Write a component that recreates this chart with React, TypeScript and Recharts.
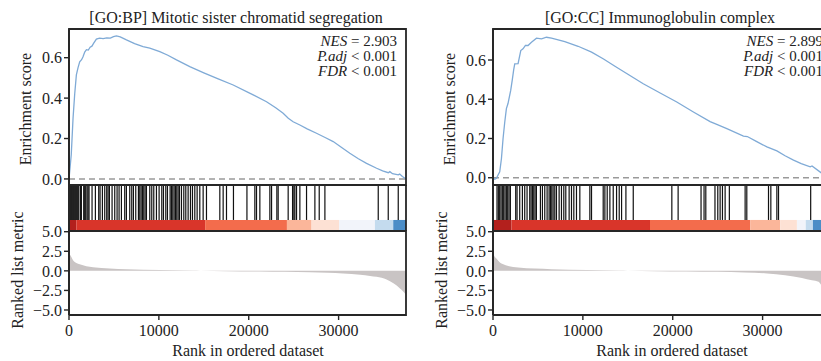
import React from 'react';
import {
  LineChart,
  Line,
  XAxis,
  YAxis,
  ReferenceLine,
  ComposedChart,
  Area,
} from 'recharts';

// ---------- shared axis values ----------
const RANK_MAX = 37500;
const rankTicks = [0, 10000, 20000, 30000];
const esTicks = [0, 0.2, 0.4, 0.6];
const metricTicks = [-5, -2.5, 0, 2.5, 5];
const metricDomain: [number, number] = [-5.64, 5.09];

// ---------- panel titles & stats ----------
const bpTitle = '[GO:BP] Mitotic sister chromatid segregation';
const ccTitle = '[GO:CC] Immunoglobulin complex';
const bpNES = '2.903';
const ccNES = '2.899';

// ---------- running enrichment score [rank, ES] ----------
const bpES = [
  [0, 0], [250, 0.12], [450, 0.3], [635, 0.42], [820, 0.515], [1000, 0.55], [1190, 0.58],
  [1400, 0.59], [1560, 0.605], [1750, 0.628], [1940, 0.64], [2150, 0.638], [2350, 0.652],
  [2550, 0.657], [2750, 0.672], [3050, 0.692], [3400, 0.697], [3800, 0.694], [4200, 0.698],
  [4600, 0.697], [4950, 0.704], [5280, 0.708], [5700, 0.703], [6390, 0.688], [7300, 0.67],
  [8240, 0.655], [8990, 0.647], [10100, 0.63], [11000, 0.612], [11960, 0.589], [13440, 0.556],
  [15000, 0.525], [16600, 0.495], [18270, 0.465], [20100, 0.425], [21980, 0.382], [23000, 0.352],
  [23830, 0.325], [24400, 0.3], [24940, 0.283], [25690, 0.267], [26500, 0.248], [27540, 0.226],
  [28500, 0.205], [29400, 0.185], [30300, 0.157], [31250, 0.127], [32200, 0.1], [33110, 0.077],
  [34230, 0.053], [34900, 0.04], [35530, 0.031], [35700, 0.036], [36000, 0.026], [36640, 0.02],
  [36800, 0.024], [37100, 0.012], [37500, 0],
];
const ccES = [
  [0, 0], [200, -0.008], [380, -0.003], [560, 0.014], [750, 0.03], [940, 0.098], [1120, 0.2],
  [1300, 0.28], [1490, 0.352], [1670, 0.378], [1970, 0.445], [2150, 0.5], [2300, 0.55], [2420, 0.58],
  [2790, 0.582], [3090, 0.648], [3340, 0.657], [3610, 0.674], [3900, 0.674], [4280, 0.69],
  [4840, 0.711], [5400, 0.708], [5950, 0.716], [6510, 0.711], [7250, 0.703], [7990, 0.694],
  [9470, 0.67], [10970, 0.64], [12300, 0.605], [13570, 0.568], [15100, 0.525], [16720, 0.479],
  [18600, 0.432], [20450, 0.386], [22300, 0.335], [24160, 0.286], [25100, 0.268], [26020, 0.25],
  [27870, 0.212], [28300, 0.21], [29300, 0.185], [30480, 0.157], [31590, 0.137], [32500, 0.112],
  [33440, 0.09], [34300, 0.072], [35300, 0.056], [35500, 0.06], [36530, 0.025], [37500, 0],
];

// ---------- gene-set hit ranks (barcode) ----------
const bpHits = [
  78, 189, 300, 412, 523, 635, 746, 857, 969, 1080, 1266, 1377, 1637, 1748, 1860, 2008, 2120, 2230,
  2565, 2936, 3307, 3456, 3716, 3976, 4199, 4348, 4496, 4793, 5090, 5350, 5572, 5832, 6202, 6388,
  6760, 6982, 7168, 7428, 7725, 7874, 8022, 8171, 8319, 8468, 8617, 8988, 9210, 9433, 9730, 10027,
  10324, 10510, 10770, 10955, 11252, 11400, 11549, 11697, 11846, 11994, 12143, 12291, 12514, 12774,
  12996, 13256, 13516, 13739, 13998, 14258, 14555, 14927, 15298, 16783, 17154, 17525, 18300, 19800,
  20680, 20866, 21237, 22350, 22539, 23130, 23275, 24388, 24877, 25023, 25134, 25320, 25690, 26432,
  27361, 27844, 28475, 34411, 35524, 36637,
];
const ccHits = [
  446, 595, 743, 892, 1040, 1189, 1338, 1486, 1635, 1784, 1932, 2527, 2676, 2973, 3270, 3530, 3790,
  4088, 4236, 4385, 4534, 4682, 4831, 5277, 5500, 5760, 6020, 6243, 6392, 6540, 6689, 6875, 7060,
  7358, 7618, 7878, 8101, 8472, 8733, 8993, 9290, 9662, 10776, 10962, 12263, 12449, 12709, 13006,
  13378, 13749, 14046, 14307, 14790, 15607, 19900, 20600, 23150, 23485, 23680, 24700, 25013, 25273,
  25532, 25830, 26300, 28056, 28242, 30657, 30917, 31586, 31772, 35350,
];

// ---------- colour strip: segment breaks (ranks) and colours ----------
const stripColors = ['#b3201d', '#d9352a', '#f36c4c', '#fbb69a', '#fde1d4', '#f2f4fa', '#c4dbee', '#4b8dc7'];
const bpStripBreaks = [0, 816, 15150, 24250, 26990, 30050, 34040, 36080, 37500];
const ccStripBreaks = [0, 2050, 17470, 28620, 31960, 33820, 34800, 35600, 37500];
const STRIP_TOP = 0.24;

// ---------- ranked list metric [rank, metric] ----------
const bpMetric = [
  [0, 2.4], [100, 2.1], [264, 1.78], [450, 1.36], [820, 1.0], [1190, 0.85], [1930, 0.6],
  [2680, 0.47], [4530, 0.3], [6390, 0.21], [10100, 0.12], [13800, 0.03], [14600, 0],
  [17500, -0.04], [21200, -0.08], [24000, -0.12], [26800, -0.17], [28800, -0.25], [30500, -0.34],
  [32400, -0.5], [33500, -0.65], [34230, -0.76], [35340, -1.1], [36100, -1.6], [36830, -2.25],
  [37380, -2.9], [37500, -3.1],
];
const ccMetric = [
  [0, 2.3], [100, 2.0], [380, 1.57], [940, 0.93], [2800, 0.42], [6500, 0.21], [10500, 0.11],
  [14000, 0.03], [15000, 0], [18000, -0.04], [21500, -0.08], [25000, -0.13], [28000, -0.2],
  [30500, -0.33], [32500, -0.55], [34380, -0.9], [35490, -1.2], [36230, -1.4], [36530, -1.82],
  [37000, -2.3], [37500, -3.0],
];

// ---------- styling ----------
const FONT = '"Liberation Serif", "DejaVu Serif", serif';
const FRAME = '#262626';
const TEXT = '#222';
const tickStyle = { fontSize: 16, fill: TEXT, fontFamily: FONT };
const tickLineStyle = { stroke: FRAME, strokeWidth: 1.4 };
const axisLineStyle = { stroke: FRAME, strokeWidth: 1.8 };
const PLOT_W = 337;
const YW = 60;
const MR = 8;

const toRows = (pts: number[][]) => pts.map(([rank, v]) => ({ rank, v }));
const fmt1 = (v: number) => v.toFixed(1).replace('-', '\u2212');

// Closed rectangle along the domain edges, drawn as a line series.
const boxRows = (d: [number, number]) => [
  { rank: 0, v: d[0] },
  { rank: 0, v: d[1] },
  { rank: RANK_MAX, v: d[1] },
  { rank: RANK_MAX, v: d[0] },
  { rank: 0, v: d[0] },
];
const boxLine = (d: [number, number]) => (
  <Line
    data={boxRows(d)}
    dataKey="v"
    type="linear"
    stroke={FRAME}
    strokeWidth={1.8}
    dot={false}
    activeDot={false}
    isAnimationActive={false}
  />
);

type PanelProps = {
  L: number;
  title: string;
  nes: string;
  statsInset: number;
  es: number[][];
  esDomain: [number, number];
  hits: number[];
  breaks: number[];
  metric: number[][];
};

function GseaPanel({ L, title, nes, statsInset, es, esDomain, hits, breaks, metric }: PanelProps) {
  const chartLeft = L - YW;
  const chartWidth = YW + PLOT_W + MR;
  const esRows = toRows(es);
  const metricRows = toRows(metric);
  const segments = breaks.slice(0, -1).map((b, i) => ({
    color: stripColors[i],
    rows: [
      { rank: b, v: STRIP_TOP },
      { rank: breaks[i + 1], v: STRIP_TOP },
    ],
  }));
  const rotLabel = (text: string, cx: number, cy: number) => (
    <div
      style={{
        position: 'absolute',
        left: cx - 100,
        top: cy - 10,
        width: 200,
        height: 20,
        lineHeight: '20px',
        fontSize: 16,
        textAlign: 'center',
        transform: 'rotate(-90deg)',
        whiteSpace: 'nowrap',
        color: TEXT,
      }}
    >
      {text}
    </div>
  );

  return (
    <>
      <div
        style={{
          position: 'absolute',
          left: L - 20,
          top: 2,
          width: PLOT_W + 37,
          textAlign: 'center',
          fontSize: 16,
          lineHeight: '16px',
          whiteSpace: 'nowrap',
          color: TEXT,
        }}
      >
        {title}
      </div>

      {rotLabel('Enrichment score', L - 43.5, 101)}
      {rotLabel('Ranked list metric', L - 51.5, 262)}

      {/* Enrichment score panel: plot area y 21..177 */}
      <div style={{ position: 'absolute', left: chartLeft, top: 11 }}>
        <ComposedChart width={chartWidth} height={176} data={esRows} margin={{ top: 10, right: MR, bottom: 10, left: 0 }}>
          <XAxis type="number" dataKey="rank" domain={[0, RANK_MAX]} hide />
          <YAxis
            type="number"
            domain={esDomain}
            ticks={esTicks}
            width={YW}
            interval={0}
            tickFormatter={fmt1}
            tick={tickStyle}
            tickLine={tickLineStyle}
            tickSize={5}
            axisLine={axisLineStyle}
          />
          <ReferenceLine y={0} stroke="#9a9a9a" strokeDasharray="6 4" strokeWidth={1.5} />
          <Line
            type="linear"
            dataKey="v"
            stroke="#7faad6"
            strokeWidth={1.3}
            dot={false}
            isAnimationActive={false}
          />
          {boxLine(esDomain)}
        </ComposedChart>
      </div>

      {/* Stats */}
      <div
        style={{
          position: 'absolute',
          left: L,
          top: 26,
          width: PLOT_W - statsInset,
          textAlign: 'right',
          fontSize: 15,
          lineHeight: '15px',
          whiteSpace: 'nowrap',
          color: TEXT,
        }}
      >
        <div><i>NES</i> = {nes}</div>
        <div><i>P.adj</i> &lt; 0.001</div>
        <div><i>FDR</i> &lt; 0.001</div>
      </div>

      {/* Barcode panel: plot area y 177..223 */}
      <div style={{ position: 'absolute', left: chartLeft, top: 177 }}>
        <ComposedChart width={chartWidth} height={46} margin={{ top: 0, right: MR, bottom: 0, left: 0 }}>
          <XAxis type="number" dataKey="rank" domain={[0, RANK_MAX]} hide />
          <YAxis
            type="number"
            domain={[0, 1]}
            width={YW}
            tick={false}
            tickLine={false}
            axisLine={axisLineStyle}
          />
          {segments.map((s, i) => (
            <Area
              key={'s' + i}
              data={s.rows}
              dataKey="v"
              type="linear"
              baseValue={0}
              fill={s.color}
              fillOpacity={1}
              stroke="none"
              isAnimationActive={false}
            />
          ))}
          {hits.map((h, i) => (
            <ReferenceLine
              key={'h' + i}
              segment={[{ x: h, y: STRIP_TOP }, { x: h, y: 1 }]}
              stroke="#111"
              strokeOpacity={1}
              strokeWidth={1.2}
              ifOverflow="visible"
            />
          ))}
          {boxLine([0, 1])}
        </ComposedChart>
      </div>

      {/* Ranked list metric panel: plot area y 223..307 */}
      <div style={{ position: 'absolute', left: chartLeft, top: 213 }}>
        <ComposedChart width={chartWidth} height={144} data={metricRows} margin={{ top: 10, right: MR, bottom: 0, left: 0 }}>
          <XAxis
            type="number"
            dataKey="rank"
            domain={[0, RANK_MAX]}
            ticks={rankTicks}
            interval={0}
            height={50}
            tick={tickStyle}
            tickLine={tickLineStyle}
            tickSize={5}
            tickMargin={5}
            axisLine={axisLineStyle}
          />
          <YAxis
            type="number"
            domain={metricDomain}
            ticks={metricTicks}
            interval={0}
            width={YW}
            tickFormatter={fmt1}
            tick={tickStyle}
            tickLine={tickLineStyle}
            tickSize={5}
            axisLine={axisLineStyle}
          />
          <Area
            type="monotone"
            dataKey="v"
            baseValue={0}
            fill="#c9c4c4"
            fillOpacity={1}
            stroke="none"
            isAnimationActive={false}
          />
          {boxLine(metricDomain)}
        </ComposedChart>
      </div>

      <div
        style={{
          position: 'absolute',
          left: L + 10.5,
          top: 335,
          width: PLOT_W,
          textAlign: 'center',
          fontSize: 16,
          lineHeight: '16px',
          whiteSpace: 'nowrap',
          color: TEXT,
        }}
      >
        Rank in ordered dataset
      </div>
    </>
  );
}

export default function App() {
  return (
    <div
      style={{
        position: 'fixed',
        left: 0,
        top: 0,
        width: 821,
        height: 361,
        overflow: 'hidden',
        fontFamily: FONT,
        background: '#fff',
      }}
    >
      <div style={{ position: 'absolute', left: 8, top: 8, width: 813, height: 353 }}>
        <GseaPanel
          L={61}
          title={bpTitle}
          nes={bpNES}
          statsInset={9}
          es={bpES}
          esDomain={[-0.03, 0.742]}
          hits={bpHits}
          breaks={bpStripBreaks}
          metric={bpMetric}
        />
        <GseaPanel
          L={485}
          title={ccTitle}
          nes={ccNES}
          statsInset={7}
          es={ccES}
          esDomain={[-0.037, 0.758]}
          hits={ccHits}
          breaks={ccStripBreaks}
          metric={ccMetric}
        />
      </div>
    </div>
  );
}
